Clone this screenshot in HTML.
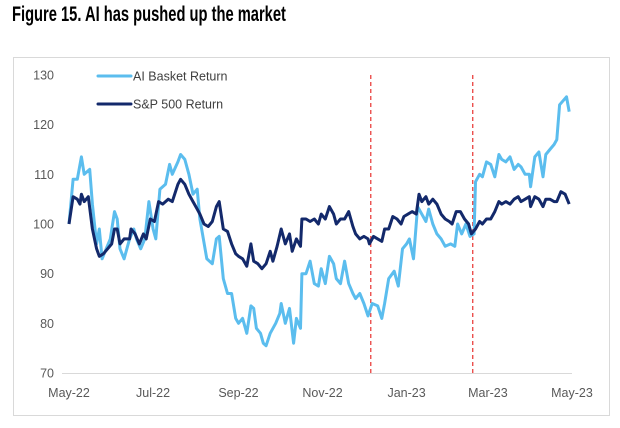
<!DOCTYPE html>
<html><head><meta charset="utf-8">
<style>
body{margin:0;background:#fff;width:620px;height:428px;overflow:hidden;font-family:"Liberation Sans",sans-serif}
#title{position:absolute;left:12px;top:3px;font-family:"Liberation Sans",sans-serif;font-weight:bold;font-size:21px;color:#000;transform:scaleX(0.70);transform-origin:0 0;white-space:nowrap}
svg{position:absolute;left:0;top:0}
</style></head><body>
<div id="title">Figure 15. AI has pushed up the market</div>
<svg id="chart" width="620" height="428"></svg>
<script>
const aiDays=[0,3,6,9,11,15,17,20,22,24,27,30,33,35,37,40,44,47,49,52,55,58,61,63,66,70,73,75,79,81,84,87,90,93,95,100,104,107,109,112,115,118,121,123,126,129,132,134,136,139,141,143,146,150,153,154,157,160,163,165,168,169,172,175,178,181,183,186,189,192,194,197,200,203,206,208,211,214,217,220,224,227,229,232,236,239,242,245,247,250,253,256,259,261,264,267,270,273,277,280,282,285,288,291,294,295,298,300,303,306,309,312,314,317,320,323,326,328,331,334,335,338,341,344,346,349,352,354,356,361,363];
const aiValues=[100,109,109,113.5,110,111,104,96,99,93,95,97,102.5,101,95,93,97,99,97,95,97,104.5,99,97,107,108,112,110,112.5,114,113,110,106,107,101,93,92,97,97.5,89,86,86,81,80,81,78,83.5,83,79,78,76,75.5,78,80,82,84,80,83,76,81,79,90,90,92.5,88,87.5,91,88,93.5,92,89,88,92.5,88,86,85,86,84,81.5,84,83.5,81,84,89,90.5,87.5,95,96,97,93,103.5,102,100.5,103,100,98,97,95.5,96,95.5,100,98,100,97.5,98,108.5,110,109.5,112.5,112,109.5,114,113,112.5,113.5,111,112,111.5,110,110,107.5,113.5,114.5,109.5,114,115,116,117,124,125.6,122.6];
const spDays=[0,3,6,8,9,11,14,17,20,22,25,28,31,33,35,37,40,44,45,48,51,54,56,59,62,65,68,72,75,79,81,84,87,90,93,95,98,101,104,107,109,112,115,118,121,123,126,129,132,134,137,140,143,146,148,151,154,157,160,162,165,168,169,172,175,178,181,183,186,189,192,194,197,200,203,206,208,211,214,217,218,221,224,227,229,232,235,238,241,243,246,249,252,254,256,259,261,264,267,270,273,276,278,281,284,287,290,292,295,298,300,303,306,309,312,314,317,320,323,326,328,331,334,335,338,341,344,346,349,352,354,357,360,363];
const spValues=[100,105.5,105,104,106,104.5,105.5,99,95,93.5,94,95,96,99,99,96,97,97,99,98,96,98,97,101,100.5,104.5,104,105,104.5,108,109,108,106,104.5,103,102,100,99.5,100.5,103.5,104.5,99,98.5,96,94,93.5,93,91.5,96,92.5,92,91,92,94.5,92.5,95.5,99,96,98,94.5,97,95.5,101,101,100.5,101,100,102,101,103.5,102,100,101,101,102.5,99.5,98,97,97.5,97,96,97.5,97,96.5,99,99,101.5,101,100,101.5,102,102.5,102,106,104.5,105.5,104,105,104,102,101,100.5,100,102.5,102.5,101,100,98,99,100.5,100,101,101,102.5,104.5,104,104.5,104,105,105.5,104.5,105,105.5,103.5,105.5,105,103.5,105,105,104.5,104.5,106.5,106,104];
const yTicks=[70,80,90,100,110,120,130];
const xTickLabels=["May-22","Jul-22","Sep-22","Nov-22","Jan-23","Mar-23","May-23"];
const xTickDays=[0,61,123,184,245,304,365];
const eventDays=[219,293];
const seriesNames=["AI Basket Return","S&P 500 Return"];

const NS="http://www.w3.org/2000/svg";
const svg=document.getElementById('chart');
const X=d=>69+d*1.378;
const Y=v=>373-(v-70)*4.967;
function mk(tag,attrs){const e=document.createElementNS(NS,tag);for(const k in attrs)e.setAttribute(k,attrs[k]);svg.appendChild(e);return e;}

let frame=mk('rect',{x:13.5,y:57.5,width:596,height:358,fill:'none',stroke:'#d9d9d9','stroke-width':1});



let ax=mk('line',{x1:62,x2:572,y1:373.5,y2:373.5,stroke:'#d9d9d9','stroke-width':1});



yTicks.forEach(v=>{
  const t=mk('text',{x:54,y:Y(v)+4.5,'text-anchor':'end','font-size':12.5,fill:'#595959','font-family':'Liberation Sans, sans-serif'});
  t.textContent=v;
  
  
});
xTickLabels.forEach((s,i)=>{
  const t=mk('text',{x:X(xTickDays[i]),y:397,'text-anchor':'middle','font-size':12.5,fill:'#595959','font-family':'Liberation Sans, sans-serif'});
  t.textContent=s;
  
  
});
eventDays.forEach(d=>{
  const l=mk('line',{x1:X(d),x2:X(d),y1:75,y2:373,stroke:'#e8312f','stroke-width':1.2,'stroke-dasharray':'4,3'});
  
  
});
function path(days,vals,color,name){
  let d=days.map((x,i)=>(i?'L':'M')+X(x).toFixed(1)+','+Y(vals[i]).toFixed(1)).join('');
  const p=mk('path',{d:d,fill:'none',stroke:color,'stroke-width':3,'stroke-linejoin':'round'});
  
  
}
path(aiDays,aiValues,'#5bbdee','ai-basket-line');
path(spDays,spValues,'#13296b','sp500-line');

[['#5bbdee',76],['#13296b',104]].forEach((c,i)=>{
  const l=mk('line',{x1:98,x2:131,y1:c[1],y2:c[1],stroke:c[0],'stroke-width':3,'stroke-linecap':'round'});
  
  
  const t=mk('text',{x:133,y:c[1]+4.5,'font-size':12.5,fill:'#404040','font-family':'Liberation Sans, sans-serif'});
  t.textContent=seriesNames[i];
  
  
});
</script>
</body></html>
